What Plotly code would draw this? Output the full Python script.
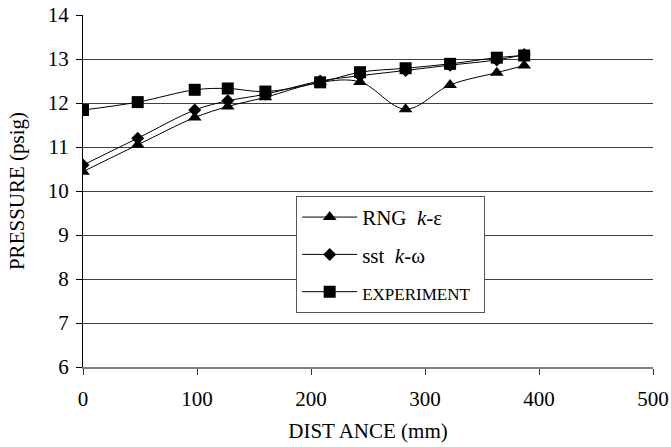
import plotly.graph_objects as go

# Measured static pressure along the duct vs. two turbulence models
distance_mm = [0, 48, 98, 127, 160, 208, 243, 283, 322, 363, 387]
rng_k_eps = [10.44, 11.05, 11.67, 11.92, 12.13, 12.47, 12.48, 11.86, 12.41, 12.69, 12.85]
sst_k_omega = [10.59, 11.20, 11.84, 12.05, 12.20, 12.50, 12.62, 12.74, 12.86, 12.98, 13.10]
experiment = [11.84, 12.02, 12.30, 12.33, 12.26, 12.47, 12.70, 12.79, 12.89, 13.03, 13.08]

x_ticks = [0, 100, 200, 300, 400, 500]
y_ticks = [6, 7, 8, 9, 10, 11, 12, 13, 14]

FONT = "Liberation Serif, Times New Roman, serif"

fig = go.Figure()

series = [
    ("RNG  <i>k</i>-ε", rng_k_eps, "triangle-up", 12),
    ("sst  <i>k</i>-ω", sst_k_omega, "diamond", 10),
    ("<span style=\"font-size:17px\">EXPERIMENT&nbsp;&nbsp;</span>", experiment, "square", 12),
]

for i, (name, values, symbol, size) in enumerate(series):
    fig.add_trace(go.Scatter(
        x=distance_mm,
        y=values,
        name=name,
        legendgroup=f"g{i}",
        mode="lines+markers",
        line=dict(color="black", width=1, shape="spline", smoothing=1),
        marker=dict(symbol=symbol, size=size, color="black",
                    line=dict(width=0)),
    ))

fig.update_layout(
    width=671,
    height=447,
    margin=dict(l=83, r=18, t=15, b=80),
    plot_bgcolor="white",
    paper_bgcolor="white",
    font=dict(family=FONT, size=21, color="black"),
    showlegend=True,
    legend=dict(
        x=0.374, y=0.486, xanchor="left", yanchor="top",
        bgcolor="white", bordercolor="#555555", borderwidth=1,
        font=dict(family=FONT, size=21, color="black"),
        itemwidth=55,
        tracegroupgap=7,
    ),
    xaxis=dict(
        range=[0, 500],
        tickvals=x_ticks,
        ticks="outside", ticklen=6, tickcolor="#333333",
        showgrid=False, zeroline=False,
        showline=True, linecolor="#808080", linewidth=1.5,
        title=dict(text="DIST ANCE (mm)", font=dict(size=21), standoff=13),
        tickfont=dict(size=21),
        ticklabelstandoff=6,
        automargin=False,
    ),
    yaxis=dict(
        range=[6, 14],
        tickvals=y_ticks,
        ticks="outside", ticklen=6, tickcolor="black",
        showgrid=True, gridcolor="#404040", gridwidth=1,
        zeroline=False,
        showline=True, linecolor="black", linewidth=1,
        title=dict(text="PRESSURE (psig)", font=dict(size=21), standoff=17),
        tickfont=dict(size=21),
        ticklabelstandoff=3,
        automargin=False,
    ),
)

fig.write_html("out.html")
